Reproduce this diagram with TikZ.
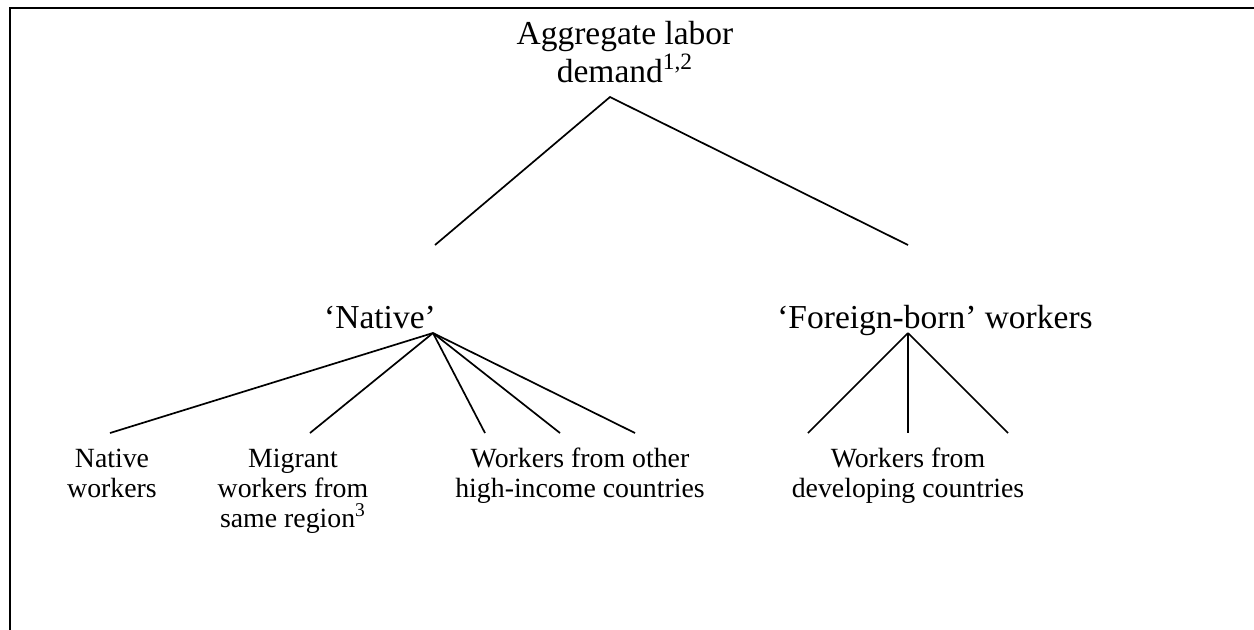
\documentclass[tikz,border=0pt]{standalone}
\usepackage{fontspec}
\setmainfont{Liberation Serif}
\begin{document}
\begin{tikzpicture}[x=0.5pt,y=-0.5pt,
  frameline/.style={line width=1.3pt,line cap=rect},
  branch/.style={line width=0.85pt},
  biglabel/.style={align=center,anchor=base,inner sep=0pt,font=\fontsize{16.75}{17.5}\selectfont},
  smalllabel/.style={align=center,anchor=base,inner sep=0pt,font=\fontsize{13.9}{15}\selectfont}]
\useasboundingbox (0,0) rectangle (1254,629);
\coordinate (fTL) at (10,8);
\coordinate (fTR) at (1254,8);
\coordinate (fBL) at (10,629);
\draw[frameline] (fTR) -- (fTL) -- (fBL);

% labels (anchored at the baseline of their last line)
\node[biglabel] (top) at (625,82) {Aggregate labor\\demand\textsuperscript{1,2}};
\node[biglabel] (native) at (380,328) {‘Native’};
\node[biglabel] (foreign) at (935,328) {‘Foreign-born’ workers};
\node[smalllabel] (nw) at (112,497) {Native\\workers};
\node[smalllabel] (mw) at (293,527) {Migrant\\workers from\\same region\textsuperscript{3}};
\node[smalllabel] (hi) at (580,497) {Workers from other\\high-income countries};
\node[smalllabel] (dv) at (908,497) {Workers from\\developing countries};

% connector points
\coordinate (a0) at (610,97);
\coordinate (aN) at (435,245);
\coordinate (aF) at (908,245);
\coordinate (n0) at (433,333);
\coordinate (n1) at (110,433);
\coordinate (n2) at (310,433);
\coordinate (n3) at (485,433);
\coordinate (n4) at (560,433);
\coordinate (n5) at (635,433);
\coordinate (f0) at (908,333);
\coordinate (f1) at (808,433);
\coordinate (f2) at (908,433);
\coordinate (f3) at (1008,433);

\draw[branch] (aN) -- (a0) -- (aF);
\foreach \e in {n1,n2,n3,n4,n5} \draw[branch] (n0) -- (\e);
\foreach \e in {f1,f2,f3} \draw[branch] (f0) -- (\e);
\end{tikzpicture}
\end{document}
